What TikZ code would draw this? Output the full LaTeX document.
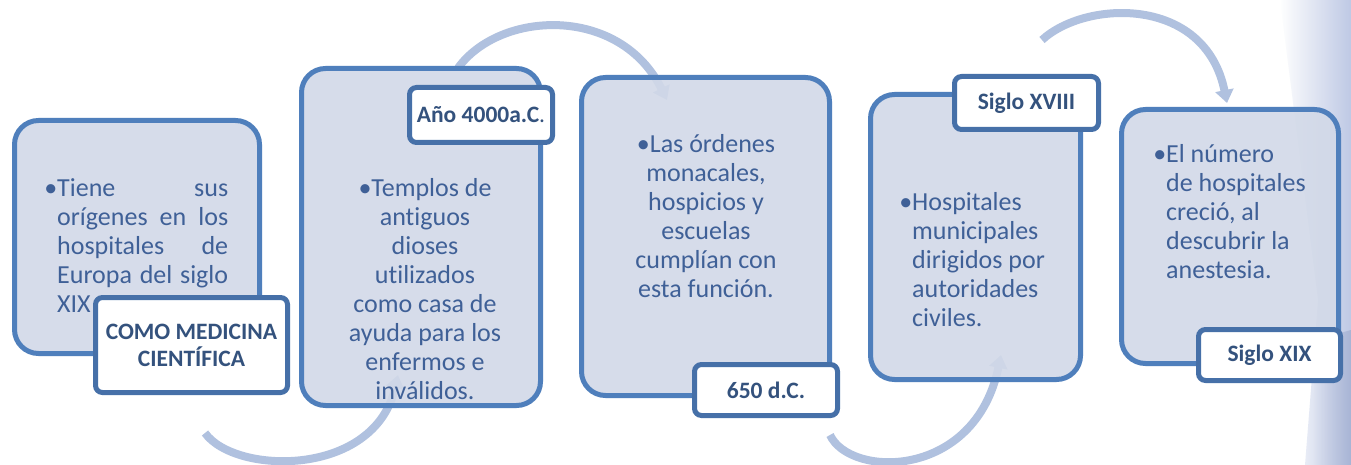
\documentclass[tikz,border=0pt]{standalone}
\usepackage{fontspec}
\setmainfont{Carlito}[Ligatures=NoCommon]
\usetikzlibrary{arrows.meta,fadings}
\definecolor{boxfill}{HTML}{D2D9E8}
\definecolor{boxline}{HTML}{4F7FBC}
\definecolor{labline}{HTML}{4670A8}
\definecolor{bodytext}{HTML}{3F6097}
\definecolor{labtext}{HTML}{34527D}
\definecolor{arcblue}{HTML}{B0C1DF}
\definecolor{decoblue}{HTML}{7E93CB}
\begin{document}
\begin{tikzpicture}[x=1pt,y=-1pt,
  bigbox/.style={draw=boxline, line width=5pt, fill=boxfill, fill opacity=0.9, draw opacity=1, rounded corners=24pt, inner sep=0pt},
  labbox/.style={draw=labline, line width=5pt, fill=white, rounded corners=7pt, inner sep=0pt, text=labtext, font=\fontsize{23.5}{27}\selectfont\bfseries, align=center},
  bodytxt/.style={text=bodytext, font=\fontsize{26}{29}\selectfont, inner sep=0pt},
  flowarc/.style={draw=arcblue, line width=8pt, -{Triangle[width=18pt,length=13pt]}}]
\useasboundingbox (0,0) rectangle (1351,465);
\fill[white] (0,0) rectangle (1351,465);
% right-edge decoration
\fill[decoblue, path fading=west, fill opacity=0.5] (1280,0) -- (1351,0) -- (1351,465) -- (1305,465) -- (1318,300) -- cycle;
\fill[decoblue!75!gray, path fading=west, fill opacity=0.35] (1315,340) -- (1351,330) -- (1351,465) -- (1312,465) -- cycle;
% arcs
\coordinate (a1s) at (205,433); \coordinate (a1e) at (398,375);
\coordinate (a2s) at (458,68);  \coordinate (a2e) at (667,100);
\coordinate (a3s) at (830,435); \coordinate (a3e) at (1001,355);
\coordinate (a4s) at (1042,40); \coordinate (a4e) at (1227,103);
\draw[flowarc] (a1s) .. controls (235,475) and (375,478) .. (a1e);
\draw[flowarc] (a2s) .. controls (500,10) and (620,5) .. (a2e);
\draw[flowarc] (a3s) .. controls (850,478) and (975,480) .. (a3e);
\draw[flowarc] (a4s) .. controls (1085,0) and (1205,-5) .. (a4e);
% big boxes
\node[bigbox, minimum width=245pt, minimum height=233pt] (b1) at (137,237) {};
\node[bigbox, minimum width=239pt, minimum height=337pt] (b2) at (421,237) {};
\node[bigbox, minimum width=248pt, minimum height=318pt] (b3) at (705.5,236.5) {};
\node[bigbox, minimum width=210pt, minimum height=285pt] (b4) at (975.5,237) {};
\node[bigbox, minimum width=217pt, minimum height=254pt] (b5) at (1230,236.5) {};
% body texts
\node[bodytxt, align=left, anchor=west] (t1) at (57,245.5)
  {\makebox[171pt][s]{\llap{•}Tiene\hfill sus}\\
   \makebox[171pt][s]{orígenes en los}\\
   \makebox[171pt][s]{hospitales\hfill de}\\
   \makebox[171pt][s]{Europa del siglo}\\
   XIX};
\node[bodytxt, align=center] (t2) at (425,289.5)
  {•Templos de\\antiguos\\dioses\\utilizados\\como casa de\\ayuda para los\\enfermos e\\inválidos.};
\node[bodytxt, align=center] (t3) at (706,216.5)
  {•Las órdenes\\monacales,\\hospicios y\\escuelas\\cumplían con\\esta función.};
\node[bodytxt, align=left, anchor=west] (t4) at (912,259.5)
  {\llap{•}Hospitales\\municipales\\dirigidos por\\autoridades\\civiles.};
\node[bodytxt, align=left, anchor=west] (t5) at (1166,212)
  {\llap{•}El número\\de hospitales\\creció, al\\descubrir la\\anestesia.};
% label boxes
\node[labbox, minimum width=192pt, minimum height=95pt] (l1) at (191.5,345) {COMO MEDICINA\\CIENTÍFICA};
\node[labbox, minimum width=143pt, minimum height=55pt] (l2) at (481,115) {Año 4000a.C{\mdseries .}};
\node[labbox, minimum width=143pt, minimum height=51pt] (l3) at (766,390) {650 d.C.};
\node[labbox, minimum width=144pt, minimum height=53pt] (l4) at (1026.5,103) {Siglo XVIII};
\node[labbox, minimum width=142pt, minimum height=51pt] (l5) at (1269.5,355) {Siglo XIX};
\end{tikzpicture}
\end{document}
